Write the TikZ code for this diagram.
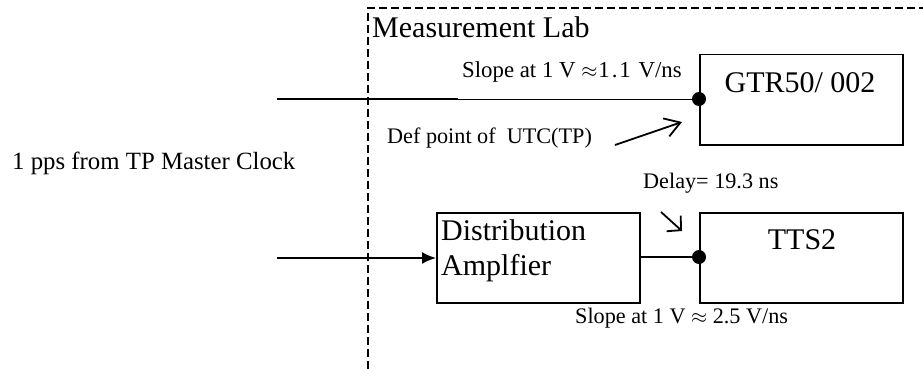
\documentclass[tikz,border=0pt]{standalone}
\usepackage{fontspec}
\setmainfont{Liberation Serif}
\usetikzlibrary{arrows.meta}
\begin{document}
\begin{tikzpicture}[x=1pt,y=-1pt,
  blk/.style={draw,line width=1.5pt,minimum width=203pt,minimum height=90pt,inner sep=0pt,anchor=north west},
  lbl/.style={inner sep=0pt,font=\fontsize{22.2}{26}\selectfont},
  big/.style={inner sep=0pt,font=\fontsize{30}{35}\selectfont},
  wire/.style={line width=1.8pt},
  thin wire/.style={line width=1pt},
  note/.style={line width=1.8pt,-{Straight Barb[length=15pt,width=19pt,line width=1.8pt]}},
  short note/.style={line width=1.8pt,-{Straight Barb[length=10pt,width=21pt,line width=1.8pt]}},
  dot/.style={circle,fill,inner sep=0pt,minimum size=14pt}]
\useasboundingbox (0,0) rectangle (923,369);
% lab frame
\coordinate (fs) at (368,369);
\coordinate (fc) at (368,8);
\coordinate (fe) at (923,8);
\draw[dash pattern=on 8pt off 4pt,line width=1.2pt] (fs) -- (fc) -- (fe);
\node[big,anchor=west] (lab) at (372,27) {Measurement Lab};
% boxes
\node[blk] (gtr) at (699,54) {};
\node[blk] (tts) at (699,212) {};
\node[blk] (amp) at (436,212) {};
\node[big] (gtrt) at (800,83) {GTR50/ 002};
\node[big] (ttst) at (802,240) {TTS2};
\node[big,anchor=west,align=left] (ampt) at (441,251) {Distribution\\Amplfier};
% dots
\node[dot] (d1) at (699,99) {};
\node[dot] (d2) at (699,257) {};
% inputs
\coordinate (in1) at (277,99);
\coordinate (in2) at (277,258);
\coordinate (mid1) at (458,99);
\draw[wire] (in1) -- (mid1);
\draw[thin wire] (mid1) -- (d1.center);
\draw[wire,-{Latex[length=14pt,width=12pt]}] (in2) -- (amp.west |- in2);
\draw[wire] (amp.east |- d2) -- (d2.center);
% labels
\node[lbl,anchor=west,font=\fontsize{24.8}{28}\selectfont] (src) at (12,163) {1 pps from TP Master Clock};
\node[lbl,anchor=west,font=\fontsize{22.8}{26}\selectfont] (s1) at (462,72) {Slope at 1 V $\approx$\kern1pt1\kern2pt.\kern2pt1\kern2pt{} V/ns};
\node[lbl,anchor=west] (def) at (387,138) {Def point of~ UTC(TP)};
\node[lbl,anchor=west] (dl) at (643,183) {Delay= 19.3 ns};
\node[lbl,anchor=west] (s2) at (575,318) {Slope at 1 V $\approx$ 2.5 V/ns};
% annotation arrows
\coordinate (a1s) at (615,145);
\coordinate (a1e) at (682,122);
\coordinate (a2s) at (661,212);
\coordinate (a2e) at (682,231);
\draw[note] (a1s) -- (a1e);
\draw[short note] (a2s) -- (a2e);
\end{tikzpicture}
\end{document}
